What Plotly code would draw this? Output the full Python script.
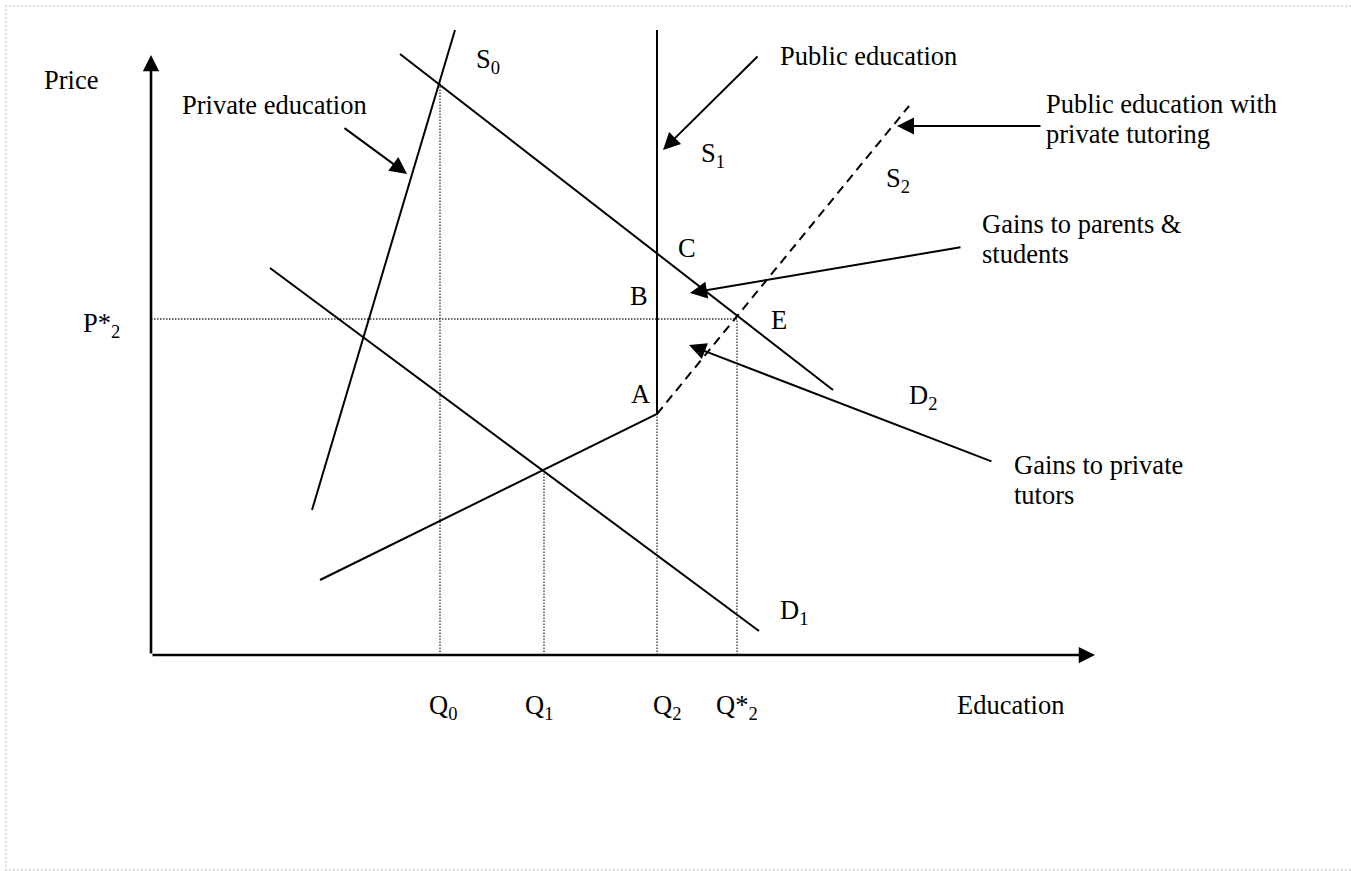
import plotly.graph_objects as go

# ---- data (quantity measured from origin, price measured from origin) ----
S0_q = [161, 304]
S0_p = [145, 625]
D2_q = [249, 682]
D2_p = [601, 265]
D1_q = [119, 608]
D1_p = [387, 24]
S1_q = [169, 506, 506]          # kinked public supply: sloped, then vertical
S1_p = [75, 241, 625]
S2_q = [506, 758]               # public education with private tutoring
S2_p = [241, 549]

guide_q = [289, 393, 506, 586]          # Q0, Q1, Q2, Q*2
guide_top = [572, 185, 241, 336]
Pstar2 = 336
Qstar2 = 586

q_labels = ["Q<sub>0</sub>", "Q<sub>1</sub>", "Q<sub>2</sub>", "Q*<sub>2</sub>"]
q_label_x = [276, 372, 500, 563]

axis_x_end = 944
axis_y_end = 600

# curve/point labels: text, left x, centre y
point_labels = ["S<sub>0</sub>", "S<sub>1</sub>", "S<sub>2</sub>", "C", "B", "E", "A",
                "D<sub>2</sub>", "D<sub>1</sub>"]
point_x = [323, 548, 733, 525, 477, 618, 478, 756, 627]
point_y = [594, 500, 475, 407, 359, 335, 261, 258, 43]

note_text = ["Price", "Private education", "Public education", "Public education with",
             "private tutoring", "Gains to parents &", "students", "Gains to private", "tutors",
             "Education"]
note_x = [-109, 29, 627, 893, 893, 829, 829, 861, 861, 804]
note_y = [575, 550, 599, 551, 521, 431, 401, 190, 160, -50]

# pointer arrows: tail -> tip
arrow_tail_q = [192, 608, 891, 811, 842]
arrow_tail_p = [528, 600, 529, 408, 193]
arrow_tip_q = [256, 512, 746, 539, 538]
arrow_tip_p = [481, 505, 529, 362, 310]

FONT = "Liberation Serif"
FS = 26.5

fig = go.Figure()

# page border (dotted, light grey)
fig.add_trace(go.Scatter(x=[1200, -145, -145, 1200], y=[649, 649, -215, -215], mode="lines",
                         line=dict(color="#c4c4c4", width=1.5, dash="1.5px,2.5px"),
                         hoverinfo="skip"))

# dotted guide lines
for q, top in zip(guide_q, guide_top):
    fig.add_trace(go.Scatter(x=[q, q], y=[0, top], mode="lines",
                             line=dict(color="#333333", width=1.3, dash="1.5px,1.5px"),
                             hoverinfo="skip"))
fig.add_trace(go.Scatter(x=[0, Qstar2], y=[Pstar2, Pstar2], mode="lines",
                         line=dict(color="#333333", width=1.3, dash="1.5px,1.5px"),
                         hoverinfo="skip"))

solid = dict(color="black", width=2)
for qs, ps in [(S0_q, S0_p), (D2_q, D2_p), (D1_q, D1_p), (S1_q, S1_p)]:
    fig.add_trace(go.Scatter(x=qs, y=ps, mode="lines", line=solid, hoverinfo="skip"))
fig.add_trace(go.Scatter(x=S2_q, y=S2_p, mode="lines",
                         line=dict(color="black", width=2, dash="9px,6px"), hoverinfo="skip"))

ann = []
# axes with arrowheads
for tx, ty in [(0, axis_y_end), (axis_x_end, 0)]:
    ann.append(dict(x=tx, y=ty, ax=0, ay=0, xref="x", yref="y", axref="x", ayref="y",
                    text="", showarrow=True, arrowhead=2, arrowsize=1.25, arrowwidth=2.6,
                    arrowcolor="black", standoff=0))
# pointer arrows
for tq, tp, hq, hp in zip(arrow_tail_q, arrow_tail_p, arrow_tip_q, arrow_tip_p):
    ann.append(dict(x=hq, y=hp, ax=tq, ay=tp, xref="x", yref="y", axref="x", ayref="y",
                    text="", showarrow=True, arrowhead=2, arrowsize=1.7, arrowwidth=2,
                    arrowcolor="black", standoff=0))

for t, x, y in zip(note_text, note_x, note_y):
    ann.append(dict(x=x, y=y, text=t, showarrow=False, xanchor="left", yanchor="middle",
                    font=dict(family=FONT, size=FS, color="black")))
for t, x, y in zip(point_labels, point_x, point_y):
    ann.append(dict(x=x, y=y, text=t, showarrow=False, xanchor="left", yanchor="middle",
                    font=dict(family=FONT, size=FS, color="black")))
for t, x in zip(q_labels, q_label_x):
    ann.append(dict(x=x, y=-52, text=t, showarrow=False, xanchor="left", yanchor="middle",
                    font=dict(family=FONT, size=FS, color="black")))
ann.append(dict(x=-29, y=330, text="P*<sub>2</sub>", showarrow=False, xanchor="right",
                yanchor="middle", font=dict(family=FONT, size=FS, color="black")))

fig.update_layout(
    width=1351, height=871,
    margin=dict(l=0, r=0, t=0, b=0),
    paper_bgcolor="white", plot_bgcolor="white",
    showlegend=False,
    xaxis=dict(range=[-151, 1200], visible=False, fixedrange=True),
    yaxis=dict(range=[-216, 655], visible=False, fixedrange=True),
    annotations=ann,
)

fig.write_html("out.html", config={"displayModeBar": False},
               post_script="document.body.style.margin='0';")
